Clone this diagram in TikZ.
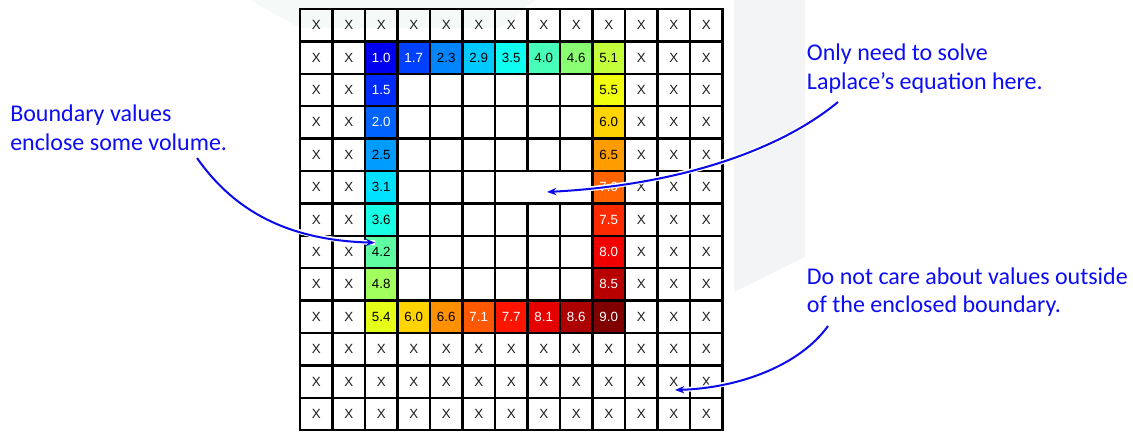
\documentclass[tikz,border=0pt]{standalone}
\usepackage{fontspec}
\setmainfont{Liberation Sans}
\newfontfamily\annfont{Carlito}
\usetikzlibrary{arrows.meta}
\definecolor{annblue}{RGB}{12,12,245}
\definecolor{arrblue}{RGB}{10,10,235}
\definecolor{bgband}{RGB}{243,244,246}
\definecolor{bgtop}{RGB}{245,249,247}
\definecolor{xgrey}{RGB}{30,30,30}
\tikzset{
  celltext/.style={inner sep=0pt, font=\fontsize{10}{12}\selectfont},
  xtext/.style={celltext, text=xgrey},
  gridline/.style={draw=black, line width=1.9pt, line cap=rect},
  anntext/.style={anchor=base west, inner sep=0pt, align=left, text=annblue,
    font=\annfont\fontsize{18}{21.3}\selectfont},
  annarrow/.style={draw=arrblue, line width=1.5pt,
    -{Stealth[length=7pt,width=5.5pt]},
    preaction={draw=white, line width=3.6pt, -}},
}
\newcommand\jetcell[3]{%
  \pgfmathsetmacro\jetT{4*#3/9}%
  \pgfmathsetmacro\jetR{max(0,min(1,1.5-abs(\jetT-3)))}%
  \pgfmathsetmacro\jetG{max(0,min(1,1.5-abs(\jetT-2)))}%
  \pgfmathsetmacro\jetB{max(0,min(1,1.5-abs(\jetT-1)))}%
  \definecolor{jc}{rgb}{\jetR,\jetG,\jetB}%
  \pgfmathtruncatemacro\jetW{(#3<2.1)||(#3>6.9)}%
  \ifnum\jetW=1 \def\jetTxt{white}\else\def\jetTxt{black}\fi
  \fill[jc] ({300+32.5*#1},{9+32.4*#2}) rectangle ++(32.5,32.4);
  \node[celltext,text=\jetTxt] (c-#1-#2) at ({300+32.5*(#1+0.5)},{9+32.4*(#2+0.5)}) {#3};%
}
\begin{document}
\begin{tikzpicture}[x=0.75pt,y=-0.75pt]
\useasboundingbox (0,0) rectangle (1133,432);
\fill[white] (0,0) rectangle (1133,432);
% faint background shapes
\fill[bgtop] (250,0) -- (300,28) -- (500,28) -- (535,0) -- cycle;
\fill[bgband] (734,0) -- (805,0) -- (805,257) -- (734,292) -- cycle;
% coloured boundary cells
\foreach \c/\v in {2/1.0,3/1.7,4/2.3,5/2.9,6/3.5,7/4.0,8/4.6,9/5.1}
  \jetcell{\c}{1}{\v};
\foreach \r/\v in {2/1.5,3/2.0,4/2.5,5/3.1,6/3.6,7/4.2,8/4.8,9/5.4}
  \jetcell{2}{\r}{\v};
\foreach \r/\v in {2/5.5,3/6.0,4/6.5,5/7.0,6/7.5,7/8.0,8/8.5,9/9.0}
  \jetcell{9}{\r}{\v};
\foreach \c/\v in {3/6.0,4/6.6,5/7.1,6/7.7,7/8.1,8/8.6}
  \jetcell{\c}{9}{\v};
% X cells
\foreach \r in {0,10,11,12}
  \foreach \c in {0,...,12}
    \node[xtext] (x-\c-\r) at ({300+32.5*(\c+0.5)},{9+32.4*(\r+0.5)}) {X};
\foreach \r in {1,...,9}
  \foreach \c in {0,1,10,11,12}
    \node[xtext] (x-\c-\r) at ({300+32.5*(\c+0.5)},{9+32.4*(\r+0.5)}) {X};
% grid
\foreach \i in {0,...,13}
  \draw[gridline] ({300+32.5*\i},9) -- ({300+32.5*\i},{9+32.4*13});
\foreach \j in {0,...,13}
  \draw[gridline] (300,{9+32.4*\j}) -- ({300+32.5*13},{9+32.4*\j});
% merged white box inside the volume
\fill[white] (525.7,172.4) rectangle (591.0,202.0);
% annotations (anchor = baseline of the last line)
\node[anntext] (t1) at (10,150) {Boundary values\\enclose some volume.};
\node[anntext] (t2) at (806.7,89) {Only need to solve\\Laplace’s equation here.};
\node[anntext] (t3) at (806.7,312.7) {Do not care about values outside\\of the enclosed boundary.};
\coordinate (a1s) at (197,158);
\coordinate (a1e) at (375,242.7);
\coordinate (a2s) at (838,102);
\coordinate (a2e) at (547,192);
\coordinate (a3s) at (828,326);
\coordinate (a3e) at (675,390);
\draw[annarrow] (a1s) .. controls (230,205) and (280,240) .. (a1e);
\draw[annarrow] (a2s) .. controls (780,150) and (680,185) .. (a2e);
\draw[annarrow] (a3s) .. controls (800,365) and (740,388) .. (a3e);
\end{tikzpicture}
\end{document}
